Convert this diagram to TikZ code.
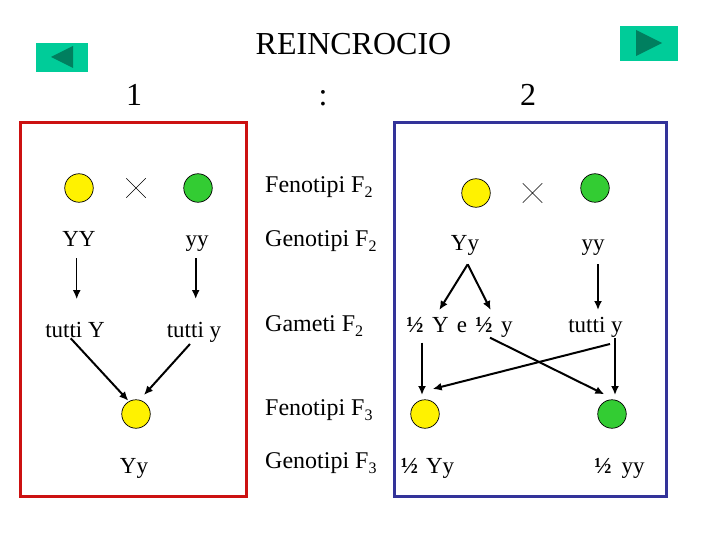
\documentclass[tikz,border=0pt]{standalone}
\usepackage{fontspec}
\setmainfont{Liberation Serif}
\usetikzlibrary{arrows.meta, shapes.misc}
\definecolor{btngreen}{HTML}{00CC99}
\definecolor{btndark}{HTML}{007F5F}
\definecolor{peagreen}{HTML}{33CC33}
\definecolor{boxred}{HTML}{CC1111}
\definecolor{boxblue}{HTML}{333399}
\newcommand{\lowsub}[1]{\raisebox{-5pt}{\fontsize{16}{16}\selectfont #1}}
\newcommand{\halfb}{\textbf{½}}
\tikzset{
  lbl/.style={inner sep=0pt, anchor=base, font=\fontsize{23}{25}\selectfont},
  side/.style={inner sep=0pt, anchor=base west, font=\fontsize{24}{26}\selectfont},
  big/.style={inner sep=0pt, anchor=base, font=\fontsize{32}{34}\selectfont},
  pea/.style={circle, draw=black, line width=0.7pt, minimum size=28.5pt, inner sep=0pt},
  cross/.style={cross out, draw=black, line width=0.5pt, minimum size=19pt, inner sep=0pt},
  arr/.style={-{Latex[length=9pt, width=8pt]}, line width=2pt},
  thinarr/.style={arr, line width=1.3pt},
  frame/.style={line width=3pt},
  btn/.style={fill=btngreen, draw=none, minimum width=#1, inner sep=0pt}
}
\begin{document}
\begin{tikzpicture}[x=1pt, y=-1pt]
      \useasboundingbox (0, 0) rectangle (720, 540);
      \draw[frame, boxred] (20, 123) rectangle (246.5, 496.5);
      \draw[frame, boxblue] (394.7, 123) rectangle (666.5, 496.5);

      \node[btn=52pt, minimum height=29pt] (btnleft) at (62, 57.5) {};
      \fill[btndark] (51, 57) -- (73, 46) -- (73, 68) -- cycle;
      \node[btn=58pt, minimum height=35pt] (btnright) at (649, 43.5) {};
      \fill[btndark] (636, 30) -- (662, 43) -- (636, 56) -- cycle;

      \node[big] (title) at (353.5, 55) {REINCROCIO};
      \node[big] (one) at (134, 106) {1};
      \node[big] (colon) at (323, 106) {:};
      \node[big] (two) at (528, 106) {2};

      \node[side] (fenotipiA) at (265, 193) {Fenotipi F\lowsub{2}};
      \node[side] (genotipiA) at (265, 246.5) {Genotipi F\lowsub{2}};
      \node[side] (gametiA) at (265, 331) {Gameti F\lowsub{2}};
      \node[side] (fenotipiB) at (265, 415) {Fenotipi F\lowsub{3}};
      \node[side] (genotipiB) at (265, 468) {Genotipi F\lowsub{3}};

      \node[pea, fill=yellow] (peaYY) at (79, 188) {};
      \node[cross] (crossA) at (136, 188) {};
      \node[pea, fill=peagreen] (peayy) at (198, 188) {};
      \node[lbl] (YY) at (79, 246) {YY};
      \node[lbl] (yy) at (197, 246) {yy};
      \node[lbl] (tuttiY) at (75, 337) {tutti Y};
      \node[lbl] (tuttiy) at (194, 337) {tutti y};
      \node[pea, fill=yellow] (peaF) at (136, 414) {};
      \node[lbl] (Yy) at (134, 473) {Yy};

      \node[pea, fill=yellow] (peaYyB) at (476, 193) {};
      \node[cross] (crossB) at (532.5, 193) {};
      \node[pea, fill=peagreen] (peayyB) at (595, 188) {};
      \node[lbl] (YyB) at (465, 251) {Yy};
      \node[lbl] (yyB) at (593, 251) {yy};
      \node[lbl] (halfYy) at (459.5, 332) {\spaceskip=8.3pt \halfb{} Y e \halfb{} y};
      \node[lbl] (tuttiyB) at (595.5, 332) {tutti y};
      \node[pea, fill=yellow] (peaHalfA) at (425, 414) {};
      \node[pea, fill=peagreen] (peaHalfB) at (612, 414) {};
      \node[lbl] (halfA) at (427.5, 473) {\spaceskip=8pt \halfb{} Yy};
      \node[lbl] (halfB) at (619.5, 473) {\spaceskip=10pt \halfb{} yy};

      \draw[thinarr] ([xshift=-2.3pt, yshift=-12pt]YY.base) -- ([xshift=1.7pt, yshift=38pt]tuttiY.base);
      \draw[arr] ([xshift=-1.3pt, yshift=-12pt]yy.base) -- ([xshift=1.7pt, yshift=38pt]tuttiy.base);
      \draw[arr] ([xshift=-4.3pt, yshift=-1.3pt]tuttiY.base) -- ([xshift=-7.7pt, yshift=13.3pt]peaF.center);
      \draw[arr] ([xshift=-4pt, yshift=-7pt]tuttiy.base) -- ([xshift=8pt, yshift=19pt]peaF.center);

      \draw[arr] ([xshift=2.7pt, yshift=-13.3pt]YyB.base) -- ([xshift=-20.2pt, yshift=22pt]halfYy.base);
      \draw[arr] ([xshift=2.7pt, yshift=-13.3pt]YyB.base) -- ([xshift=31.2pt, yshift=22pt]halfYy.base);
      \draw[arr] ([xshift=5pt, yshift=-13pt]yyB.base) -- ([xshift=2.5pt, yshift=22pt]tuttiyB.base);
      \draw[arr] ([xshift=-37.5pt, yshift=-10.7pt]halfYy.base) -- ([xshift=-3pt, yshift=19pt]peaHalfA.center);
      \draw[arr] ([xshift=14.5pt, yshift=-12pt]tuttiyB.base) -- ([xshift=7.7pt, yshift=25pt]peaHalfA.center);
      \draw[arr] ([xshift=30.5pt, yshift=-5.7pt]halfYy.base) -- ([xshift=-7.7pt, yshift=19.7pt]peaHalfB.center);
      \draw[arr] ([xshift=19.5pt, yshift=-6.3pt]tuttiyB.base) -- ([xshift=3pt, yshift=19pt]peaHalfB.center);
    \end{tikzpicture}
\end{document}
